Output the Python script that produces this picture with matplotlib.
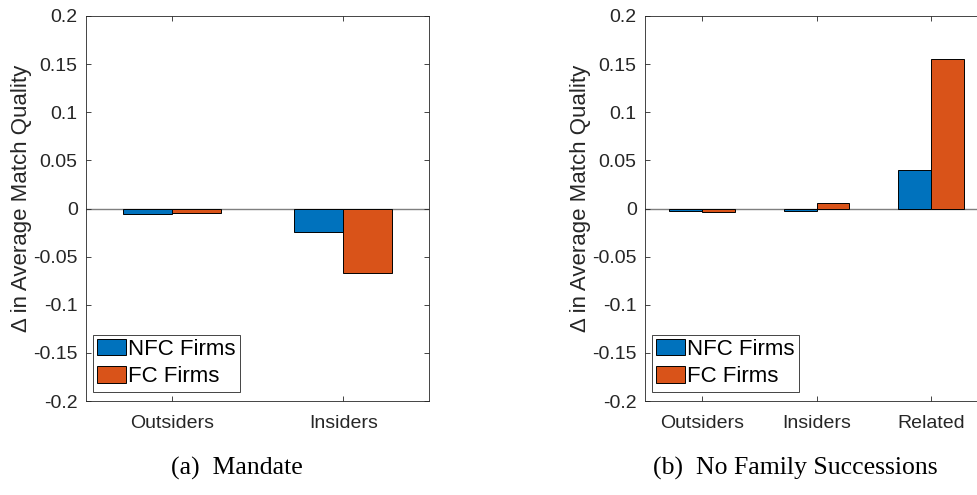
import matplotlib.pyplot as plt
import numpy as np

# values
cats_a = ["Outsiders", "Insiders"]
nfc_a = [-0.0058, -0.0246]
fc_a = [-0.0045, -0.0673]

cats_b = ["Outsiders", "Insiders", "Related"]
nfc_b = [-0.0028, -0.0024, 0.0396]
fc_b = [-0.0038, 0.0060, 0.1550]

yticks = [-0.2, -0.15, -0.1, -0.05, 0, 0.05, 0.1, 0.15, 0.2]
ytick_labels = ["-0.2", "-0.15", "-0.1", "-0.05", "0", "0.05", "0.1", "0.15", "0.2"]

BLUE = "#0072BD"
ORANGE = "#D95319"
AXC = "#262626"
W = 0.286

plt.rcParams["font.family"] = ["Liberation Sans", "DejaVu Sans"]

fig = plt.figure(figsize=(9.78, 4.95), dpi=100)
FW, FH = 978, 495


def panel(left_px, cats, nfc, fc):
    ax = fig.add_axes([left_px / FW, (FH - 401) / FH, 343 / FW, 385 / FH])
    x = np.arange(1, len(cats) + 1)
    ax.axhline(0, color="#7f7f7f", lw=1.0, zorder=1)
    ax.bar(x - W / 2, nfc, W, color=BLUE, edgecolor="black", lw=0.7,
           label="NFC Firms", zorder=2)
    ax.bar(x + W / 2, fc, W, color=ORANGE, edgecolor="black", lw=0.7,
           label="FC Firms", zorder=2)
    ax.set_xlim(0.5, len(cats) + 0.5)
    ax.set_ylim(-0.2, 0.2)
    ax.set_xticks(x)
    ax.set_xticklabels(cats)
    ax.set_yticks(yticks)
    ax.set_yticklabels(ytick_labels)
    ax.tick_params(direction="in", length=3.5, width=0.6, colors=AXC,
                   labelsize=14, top=True, right=True, pad=6)
    ax.tick_params(axis="x", pad=10)
    for s in ax.spines.values():
        s.set_color(AXC)
        s.set_linewidth(0.6)
    ax.set_ylabel("Δ in Average Match Quality", fontsize=16, color=AXC,
                  labelpad=0.5)
    ax.yaxis.label.set_y(0.527)
    leg = ax.legend(loc="lower left", bbox_to_anchor=(0.02, 0.024),
                    borderaxespad=0, fontsize=16, fancybox=False,
                    framealpha=1, edgecolor=AXC, handlelength=1.3,
                    handleheight=0.75, handletextpad=0.1, labelspacing=0.28,
                    borderpad=0.2)
    leg.get_frame().set_linewidth(0.6)
    return ax


ax1 = panel(86, cats_a, nfc_a, fc_a)
ax2 = panel(645, cats_b, nfc_b, fc_b)

fig.text(237 / FW, 1 - 468 / FH, "(a)  Mandate", ha="center", va="center",
         family="Liberation Serif", fontsize=18.5)
fig.text(795 / FW, 1 - 468 / FH, "(b)  No Family Successions", ha="center",
         va="center", family="Liberation Serif", fontsize=18.5)

fig.savefig("out.png", dpi=100)
